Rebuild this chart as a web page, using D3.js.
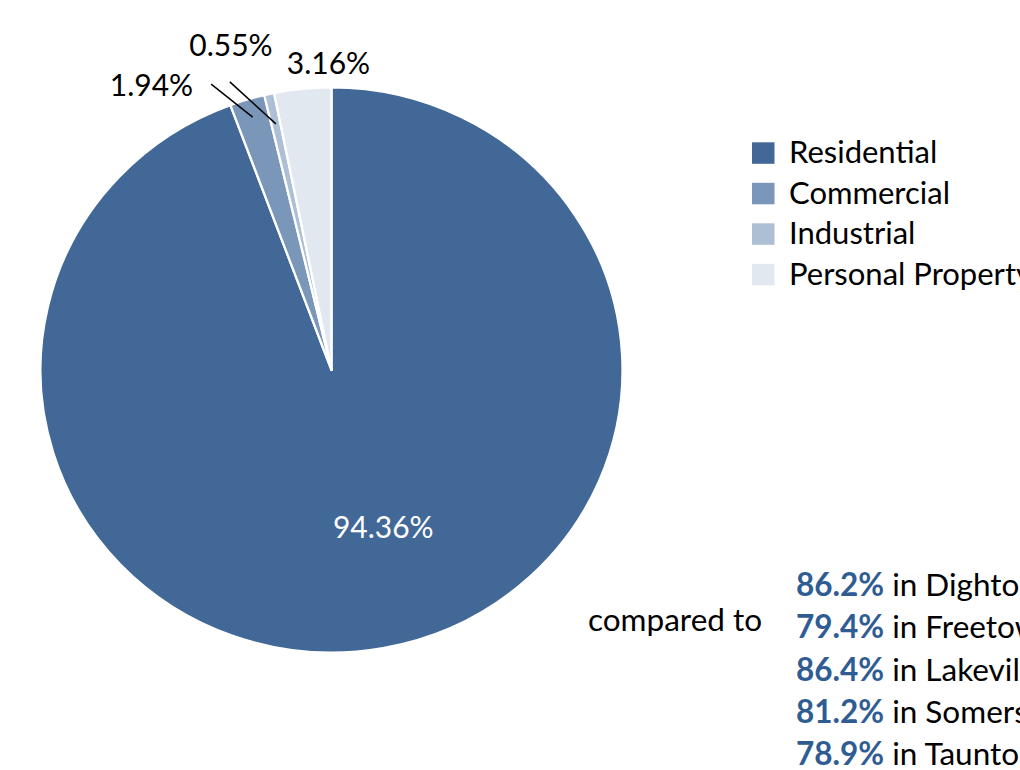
<!DOCTYPE html>
<html><head><meta charset="utf-8">
<script src="https://cdn.jsdelivr.net/npm/d3@7"></script>
<style>html,body{margin:0;padding:0;background:#fff;overflow:hidden}svg{display:block}</style>
</head><body>
<svg id="chart" width="1020" height="770"></svg>
<script>
const categories = ["Residential", "Commercial", "Industrial", "Personal Property"];
const values = [94.36, 1.94, 0.55, 3.16];
const valueLabels = ["94.36%", "1.94%", "0.55%", "3.16%"];
const compareTowns = ["Dighton", "Freetown", "Lakeville", "Somerset", "Taunton"];
const compareValues = [86.2, 79.4, 86.4, 81.2, 78.9];

const colors = ["#416897", "#7a96b8", "#adbfd5", "#e2e8f0"];
const FONT = "Lato, 'Open Sans', sans-serif";

const svg = d3.select("#chart");
const cx = 331.5, cy = 370, ry = 282.5, rx = 291;

const pie = d3.pie().sort(null).value(d => d)(values);
const arc = d3.arc().innerRadius(0).outerRadius(ry);
const color = d3.scaleOrdinal().domain(categories).range(colors);

const g = svg.append("g").attr("transform", `translate(${cx},${cy}) scale(${rx / ry},1)`);
g.selectAll("path").data(pie).join("path")
  .attr("d", arc)
  .attr("fill", (d, i) => color(categories[i]))
  .attr("stroke", "#fff").attr("stroke-width", 2.2).attr("stroke-linejoin", "round");

// polar helper (angle from 12 o'clock clockwise, radius factor of ry)
function pt(angle, f) {
  return [cx + Math.sin(angle) * ry * f * (rx / ry), cy - Math.cos(angle) * ry * f];
}
const mid = d => (d.startAngle + d.endAngle) / 2;

// label layout relative to pie center, leader line radii
const labelLayout = [
  { x: 51.8, y: 168, leader: null, fill: "#fff" },
  { x: -180, y: -274.5, leader: { a0: -0.388, f0: 1.093, f1: 0.935 }, fill: "#000" },
  { x: -100.5, y: -314, leader: { a0: -0.330, f0: 1.078, f1: 0.892 }, fill: "#000" },
  { x: -3, y: -295.7, leader: null, fill: "#000" }
];

pie.forEach((d, i) => {
  const L = labelLayout[i];
  if (L.leader) {
    const p0 = pt(L.leader.a0, L.leader.f0);
    const p1 = pt(mid(d) - 2 * Math.PI, L.leader.f1);
    svg.append("line").attr("x1", p0[0]).attr("y1", p0[1]).attr("x2", p1[0]).attr("y2", p1[1])
      .attr("stroke", "#000").attr("stroke-width", 1.5);
  }
  svg.append("text").attr("x", cx + L.x).attr("y", cy + L.y)
    .attr("text-anchor", "middle").attr("font-family", FONT).attr("font-size", 30)
    .attr("fill", L.fill).text(valueLabels[i]);
});

// legend
const legY = d3.scalePoint().domain(categories).range([163.3, 284.8]);
const leg = svg.append("g");
categories.forEach(c => {
  leg.append("rect").attr("x", 752).attr("y", legY(c) - 21).attr("width", 22.5).attr("height", 21.5)
    .attr("fill", color(c));
  leg.append("text").attr("x", 789).attr("y", legY(c)).attr("font-family", FONT).attr("font-size", 31)
    .attr("fill", "#000").text(c);
});

// comparison text
svg.append("text").attr("x", 588).attr("y", 631).attr("font-family", FONT).attr("font-size", 31.5)
  .attr("fill", "#000").text("compared to");
const rowY = d3.scalePoint().domain(compareTowns).range([596, 765]);
compareTowns.forEach((t, i) => {
  const tx = svg.append("text").attr("x", 796).attr("y", rowY(t)).attr("font-family", FONT)
    .attr("font-size", 31.5).attr("fill", "#000");
  tx.append("tspan").attr("font-weight", "bold").attr("fill", "#2f5d93").text(compareValues[i].toFixed(1) + "%");
  tx.append("tspan").text(" in " + t);
});
</script>
</body></html>
